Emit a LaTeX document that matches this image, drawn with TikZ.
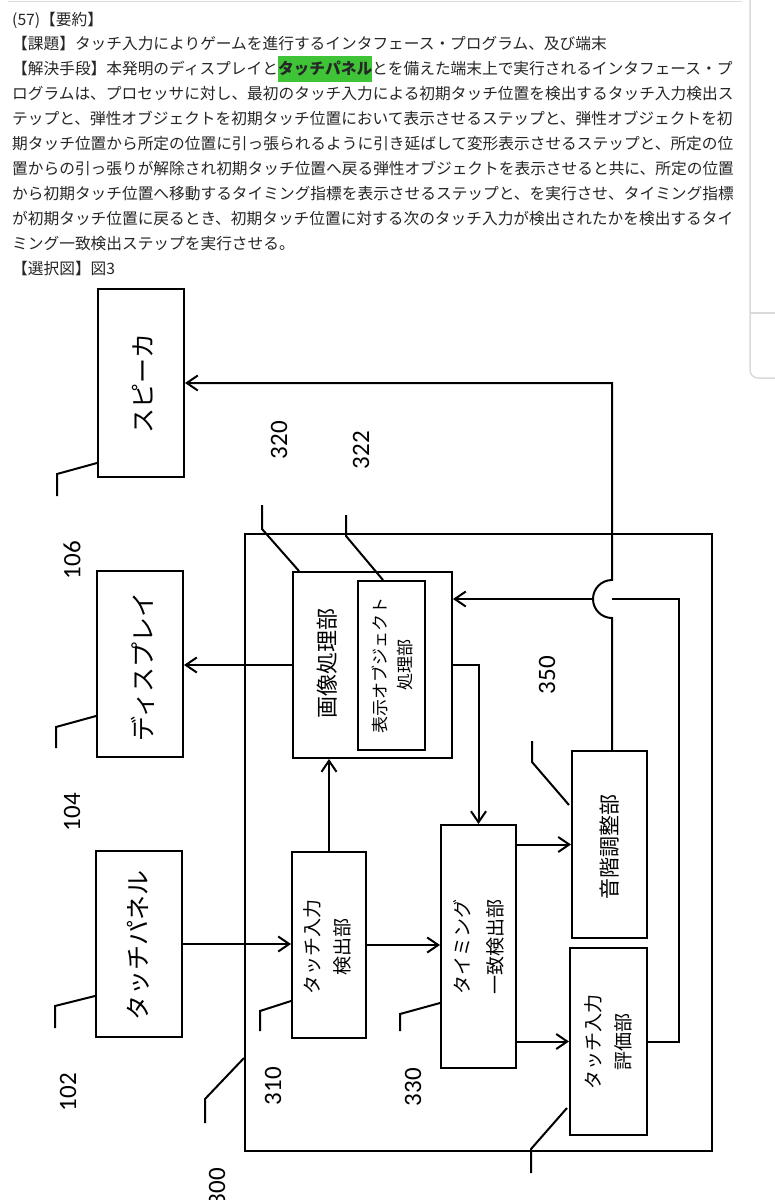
\documentclass[tikz,border=0pt]{standalone}
\usepackage{fontspec}
\usepackage{tikz}
\usetikzlibrary{arrows.meta,calc}
\newfontfamily\jp{Noto Sans CJK JP}
\newfontfamily\num{Carlito}
\definecolor{hlgreen}{RGB}{62,196,54}
\definecolor{ink}{RGB}{38,38,38}
\definecolor{chrome}{RGB}{218,218,218}
\tikzset{
  block/.style={draw,line width=2pt,inner sep=0pt},
  wire/.style={line width=2pt,-{Straight Barb[length=11pt,width=15pt]}},
  plain/.style={line width=2pt},
  leaderline/.style={line width=2pt},
  refno/.style={rotate=90,inner sep=0pt,font=\num\fontsize{25}{25}\selectfont},
  abstract/.style={inner sep=0pt,text=ink,font=\jp\fontsize{15.7}{20}\selectfont},
  chromeline/.style={draw=chrome,line width=1.5pt}
}
\newcommand{\leader}[4]{% start point, dx, dy, drop
  \draw[leaderline] (#1) -- ++(#2,#3) -- ++(0,#4);
}
\newcommand{\hl}[1]{{\setlength{\fboxsep}{0pt}\colorbox{hlgreen}{\rule[-7pt]{0pt}{26pt}\bfseries #1}}}

\begin{document}
\begin{tikzpicture}[x=1pt,y=-1pt]
  \useasboundingbox[fill=white] (0,0) rectangle (775,1200);

  % page frame
  \draw[chromeline] (8,1.5) -- (742,1.5);
  \draw[chromeline,rounded corners=8pt] (750,0) -- (750,378) -- (775,378);
  \draw[chromeline] (750,313) -- (775,313);

  % abstract
  \foreach \txt [count=\i from 0] in {
    {(57)【要約】},
    {【課題】タッチ入力によりゲームを進行するインタフェース・プログラム、及び端末},
    {【解決手段】本発明のディスプレイと\hl{タッチパネル}とを備えた端末上で実行されるインタフェース・プ},
    {ログラムは、プロセッサに対し、最初のタッチ入力による初期タッチ位置を検出するタッチ入力検出ス},
    {テップと、弾性オブジェクトを初期タッチ位置において表示させるステップと、弾性オブジェクトを初},
    {期タッチ位置から所定の位置に引っ張られるように引き延ばして変形表示させるステップと、所定の位},
    {置からの引っ張りが解除され初期タッチ位置へ戻る弾性オブジェクトを表示させると共に、所定の位置},
    {から初期タッチ位置へ移動するタイミング指標を表示させるステップと、を実行させ、タイミング指標},
    {が初期タッチ位置に戻るとき、初期タッチ位置に対する次のタッチ入力が検出されたかを検出するタイ},
    {ミング一致検出ステップを実行させる。},
    {【選択図】図3}}
    \node[abstract,anchor=base west] (line\i) at (12,25+24.9*\i) {\txt};

  % blocks
  \node[block,minimum width=467pt,minimum height=617pt] (frame) at (478.5,842.5) {};
  \node[block,minimum width=86pt,minimum height=188pt] (spk) at (141,383) {};
  \node[block,minimum width=86pt,minimum height=186pt] (disp) at (140,664) {};
  \node[block,minimum width=86pt,minimum height=186pt] (panel) at (139,944) {};
  \node[block,minimum width=159pt,minimum height=186pt] (imgproc) at (372.5,665) {};
  \node[block,minimum width=67pt,minimum height=169pt] (objproc) at (391.5,665.5) {};
  \node[block,minimum width=74pt,minimum height=186pt] (detect) at (329,945) {};
  \node[block,minimum width=75pt,minimum height=243pt] (timing) at (478.5,946.5) {};
  \node[block,minimum width=75pt,minimum height=187pt] (scale) at (609.5,844.5) {};
  \node[block,minimum width=77pt,minimum height=187pt] (evalu) at (608.5,1041.5) {};

  % block texts
  \node[rotate=90,font=\jp\fontsize{25}{30}\selectfont] (spktxt) at (143,383) {スピーカ};
  \node[rotate=90,font=\jp\fontsize{25}{30}\selectfont] (disptxt) at (143,667) {ディスプレイ};
  \node[rotate=90,font=\jp\fontsize{25}{30}\selectfont] (paneltxt) at (138,945) {タッチパネル};
  \node[rotate=90,font=\jp\fontsize{22}{30}\selectfont] (imgtxt) at (327,663) {画像処理部};
  \node[rotate=90,align=center,font=\jp\fontsize{17}{25}\selectfont] (objtxt) at (392.5,665) {表示オブジェクト\\処理部};
  \node[rotate=90,align=center,font=\jp\fontsize{19}{30}\selectfont] (dettxt) at (327,947) {タッチ入力\\検出部};
  \node[rotate=90,align=center,font=\jp\fontsize{19}{33}\selectfont] (timtxt) at (478.5,947) {タイミング\\一致検出部};
  \node[rotate=90,font=\jp\fontsize{21}{30}\selectfont] (scaletxt) at (610,847) {音階調整部};
  \node[rotate=90,align=center,font=\jp\fontsize{19}{30}\selectfont] (evaltxt) at (608,1042) {タッチ入力\\評価部};

  % signal lines
  \draw[wire] (panel.east) -- (panel.east -| detect.west);
  \draw[wire] (detect.east) -- (detect.east -| timing.west);
  \draw[wire] (detect.north) -- (detect.north |- imgproc.south);
  \draw[wire] (imgproc.west) -- (imgproc.west -| disp.east);
  \draw[wire] (imgproc.east) -| (timing.north);
  \draw[wire] (timing.east |- scale.west) -- (scale.west);
  \draw[wire] (timing.east |- evalu.west) -- (evalu.west);
  \coordinate (hop) at (612,599);
  \coordinate (hopw) at (593,599);
  \draw[wire] (scale.north -| hop) -- ($(hop)+(0,19)$) arc(90:270:19) |- (spk.east);% jump over
  \draw[plain] (evalu.east) -- ++(31,0) |- (hop);
  \draw[wire] (hopw) -- (hopw -| imgproc.east);

  % reference leaders
  \leader{$(spk.south west)+(0,-15)$}{-40}{11}{22}
  \leader{$(disp.south west)+(0,-42)$}{-40}{11}{21}
  \leader{$(panel.south west)+(0,-42)$}{-40}{10}{22}
  \leader{$(detect.south west)+(0,-38)$}{-31}{10}{20}
  \leader{$(timing.south west)+(0,-66)$}{-40}{11}{17}
  \leader{$(frame.south west)+(0,-94)$}{-39}{41}{24}
  \leader{$(imgproc.north west)+(7,0)$}{-37}{-42}{-24}
  \leader{$(objproc.north west)+(26,0)$}{-37}{-44}{-21}
  \leader{$(scale.north west)+(-2,55)$}{-37}{-43}{-21}
  \leader{$(evalu.south west)+(-2,-28)$}{-36}{41}{24}

  % reference numbers
  \node[refno] (n106) at (72,560) {106};
  \node[refno] (n104) at (72,812) {104};
  \node[refno] (n102) at (68,1092) {102};
  \node[refno] (n320) at (279,440) {320};
  \node[refno] (n322) at (361,450) {322};
  \node[refno] (n350) at (547,675) {350};
  \node[refno] (n310) at (273,1086) {310};
  \node[refno] (n330) at (413,1087) {330};
  \node[refno] (n300) at (217,1187) {300};
\end{tikzpicture}
\end{document}
